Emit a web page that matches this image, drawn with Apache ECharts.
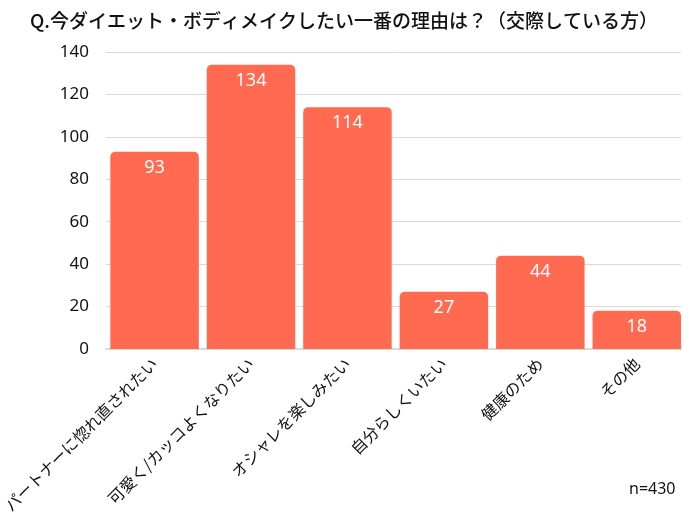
<!DOCTYPE html>
<html><head><meta charset="utf-8">
<script src="https://cdn.jsdelivr.net/npm/echarts@6/dist/echarts.min.js"></script>
<style>html,body{margin:0;padding:0;background:#fff}#c{width:700px;height:520px}</style>
</head><body><div id="c"></div>
<script>
const categories = ['パートナーに惚れ直されたい','可愛く/カッコよくなりたい','オシャレを楽しみたい','自分らしくいたい','健康のため','その他'];
const values = [93, 134, 114, 27, 44, 18];
const yTicks = [0, 20, 40, 60, 80, 100, 120, 140];
const titleText = 'Q.今ダイエット・ボディメイクしたい一番の理由は？（交際している方）';
const noteText = 'n=430';

const yMin = yTicks[0], yMax = yTicks[yTicks.length - 1];
const chart = echarts.init(document.getElementById('c'));
chart.setOption({
  animation: false,
  title: [{
    text: titleText, left: 25, top: 6,
    textStyle: {fontFamily: 'Noto Sans CJK JP', fontSize: 19, fontWeight: 500, color: '#111'}
  }, {
    text: noteText, left: 624, top: 476,
    textStyle: {fontFamily: 'Noto Sans', fontSize: 16, fontWeight: 'normal', color: '#111'}
  }],
  grid: [
    {left: 106, right: 19, top: 52, bottom: 171},
    {left: 103, right: 15, top: 52, bottom: 171}
  ],
  xAxis: [{
    gridIndex: 0, type: 'category', data: categories,
    axisTick: {show: false}, axisLabel: {show: false},
    axisLine: {lineStyle: {color: '#d9d9d9', width: 2}}
  }, {
    gridIndex: 1, type: 'category', data: categories,
    axisTick: {show: false},
    axisLine: {show: false},
    axisLabel: {rotate: 45, interval: 0, fontFamily: 'Noto Sans CJK JP', fontSize: 16, color: '#111', margin: 12}
  }],
  yAxis: [{
    gridIndex: 0, type: 'value', min: yMin, max: yMax, interval: 20,
    axisLine: {show: false}, axisTick: {show: false},
    splitLine: {lineStyle: {color: '#d9d9d9', width: 1}},
    axisLabel: {fontFamily: 'Noto Sans', fontSize: 17, color: '#111', margin: 17}
  }, {
    gridIndex: 1, type: 'value', min: yMin, max: yMax, interval: 20, show: false,
    splitLine: {show: false}
  }],
  series: [{
    type: 'bar', data: values, xAxisIndex: 1, yAxisIndex: 1, barCategoryGap: '8.25%',
    itemStyle: {color: '#FF6A50', borderRadius: [5, 5, 0, 0]},
    label: {show: true, position: 'insideTop', distance: 7, color: '#fff', fontFamily: 'Noto Sans', fontSize: 18}
  }]
});
</script></body></html>
